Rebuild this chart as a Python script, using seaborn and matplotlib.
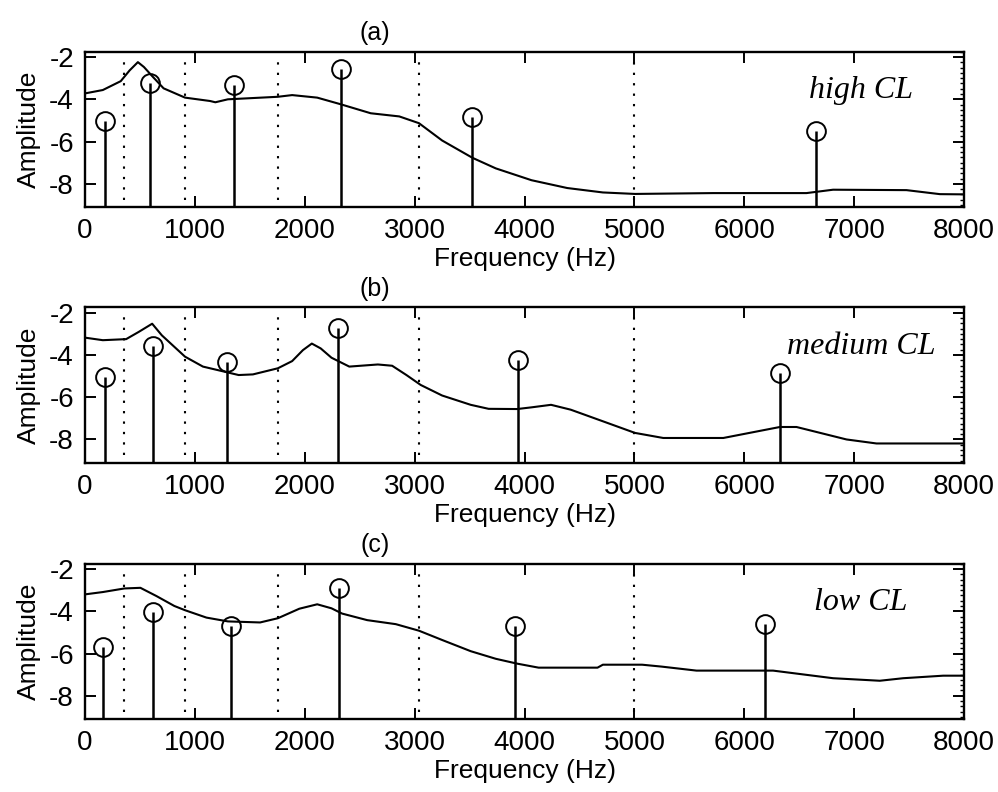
import numpy as np
import matplotlib
matplotlib.use("Agg")
import matplotlib.pyplot as plt
import seaborn as sns
from matplotlib.ticker import MultipleLocator

# Spectral envelopes
freq_a = [0, 162, 325, 406, 481, 536, 618, 715, 910, 1138, 1186, 1300, 1755, 1885, 2113,
          2324, 2600, 2860, 3039, 3250, 3526, 3738, 4063, 4388, 4713, 5005, 5717, 6566,
          6808, 7476, 7780, 8000]
amp_a = [-3.72, -3.56, -3.14, -2.63, -2.24, -2.47, -2.94, -3.48, -3.92, -4.08, -4.14,
         -4.0, -3.88, -3.8, -3.92, -4.23, -4.66, -4.81, -5.13, -5.95, -6.77, -7.27, -7.83,
         -8.2, -8.41, -8.48, -8.44, -8.44, -8.28, -8.3, -8.49, -8.5]

freq_b = [0, 162, 374, 488, 611, 699, 910, 1073, 1268, 1398, 1528, 1755, 1885, 1983,
          2064, 2145, 2243, 2405, 2665, 2795, 2925, 3055, 3250, 3510, 3673, 3933, 4063,
          4241, 4420, 4713, 5005, 5262, 5809, 6324, 6475, 6930, 7203, 8000]
amp_b = [-3.18, -3.3, -3.25, -2.91, -2.52, -3.07, -4.08, -4.55, -4.79, -4.95, -4.92,
         -4.63, -4.29, -3.77, -3.46, -3.69, -4.13, -4.55, -4.45, -4.51, -4.95, -5.42,
         -5.92, -6.36, -6.55, -6.56, -6.48, -6.36, -6.59, -7.14, -7.69, -7.93, -7.93,
         -7.41, -7.41, -8.0, -8.19, -8.19]

freq_c = [0, 162, 358, 504, 650, 813, 910, 1105, 1300, 1593, 1755, 1950, 2113, 2243,
          2340, 2568, 2828, 3039, 3250, 3510, 3738, 3933, 4128, 4664, 4713, 5070, 5247,
          5565, 6262, 6808, 7233, 7446, 7810, 8000]
amp_c = [-3.2, -3.09, -2.92, -2.89, -3.28, -3.75, -3.95, -4.3, -4.48, -4.53, -4.33,
         -3.88, -3.67, -3.86, -4.11, -4.42, -4.61, -4.92, -5.36, -5.89, -6.25, -6.48,
         -6.67, -6.67, -6.53, -6.53, -6.62, -6.81, -6.81, -7.17, -7.29, -7.17, -7.05,
         -7.05]

# Stem components
stem_f_a = [185, 595, 1359, 2330, 3526, 6657]
stem_v_a = [-5.05, -3.25, -3.33, -2.55, -4.86, -5.5]
stem_f_b = [185, 618, 1290, 2298, 3939, 6324]
stem_v_b = [-5.02, -3.57, -4.35, -2.71, -4.24, -4.86]
stem_f_c = [162, 618, 1326, 2314, 3916, 6188]
stem_v_c = [-5.67, -4.03, -4.72, -2.89, -4.72, -4.61]

# Band edges (dotted lines)
band_edges = [355, 913, 1752, 3039, 5000]

panel_titles = ["(a)", "(b)", "(c)"]
panel_labels = ["high CL", "medium CL", "low CL"]
x_ticks = [0, 1000, 2000, 3000, 4000, 5000, 6000, 7000, 8000]
y_ticks = [-2, -4, -6, -8]

sns.set_style("ticks")
plt.rcParams["font.family"] = ["Liberation Sans", "DejaVu Sans"]
plt.rcParams["text.color"] = "black"
plt.rcParams["axes.labelcolor"] = "black"
plt.rcParams["xtick.color"] = "black"
plt.rcParams["ytick.color"] = "black"

fig = plt.figure(figsize=(9.98, 7.92), dpi=100)
bottoms = [0.7386, 0.4158, 0.0922]
panels = [
    (freq_a, amp_a, stem_f_a, stem_v_a),
    (freq_b, amp_b, stem_f_b, stem_v_b),
    (freq_c, amp_c, stem_f_c, stem_v_c),
]

for i, (fx, fy, sx, sy) in enumerate(panels):
    ax = fig.add_axes([0.0852, bottoms[i], 0.8808, 0.196])
    sns.lineplot(x=fx, y=fy, ax=ax, color="black", lw=1.5, sort=False)
    ax.vlines(band_edges, -8.75, -2.0, colors="black", lw=1.5,
              linestyles=(0, (1.1, 3.9)))
    ax.vlines(sx, -9.5, sy, colors="black", lw=1.8)
    ax.plot(sx, sy, "o", ms=13.5, mfc="none", mec="black", mew=1.4)

    ax.set_xlim(0, 8000)
    ax.set_ylim(-9.1, -1.75)
    ax.set_xticks(x_ticks)
    ax.set_xticklabels([str(t) for t in x_ticks])
    ax.set_yticks(y_ticks)
    ax.set_yticklabels([str(t) for t in y_ticks])
    ax.yaxis.set_minor_locator(MultipleLocator(0.25))
    ax.tick_params(axis="both", which="major", direction="in", length=8, width=1.4,
                   top=True, right=True, labelsize=20, pad=8)
    ax.tick_params(axis="y", which="minor", direction="in", length=3, width=1,
                   left=False, right=True)
    for sp in ax.spines.values():
        sp.set_linewidth(1.7)
        sp.set_color("black")

    ax.set_ylabel("Amplitude", fontsize=19, labelpad=6)
    ax.set_xlabel("Frequency (Hz)", fontsize=19, labelpad=2)
    ax.text(7060, -3.6, panel_labels[i], fontsize=23, style="italic",
            family="Liberation Serif", ha="center", va="center")
    ax.text(2640, 1.12, panel_titles[i], fontsize=18, ha="center", va="center",
            transform=ax.get_xaxis_transform())

fig.savefig("out.png", dpi=100, facecolor="white")
